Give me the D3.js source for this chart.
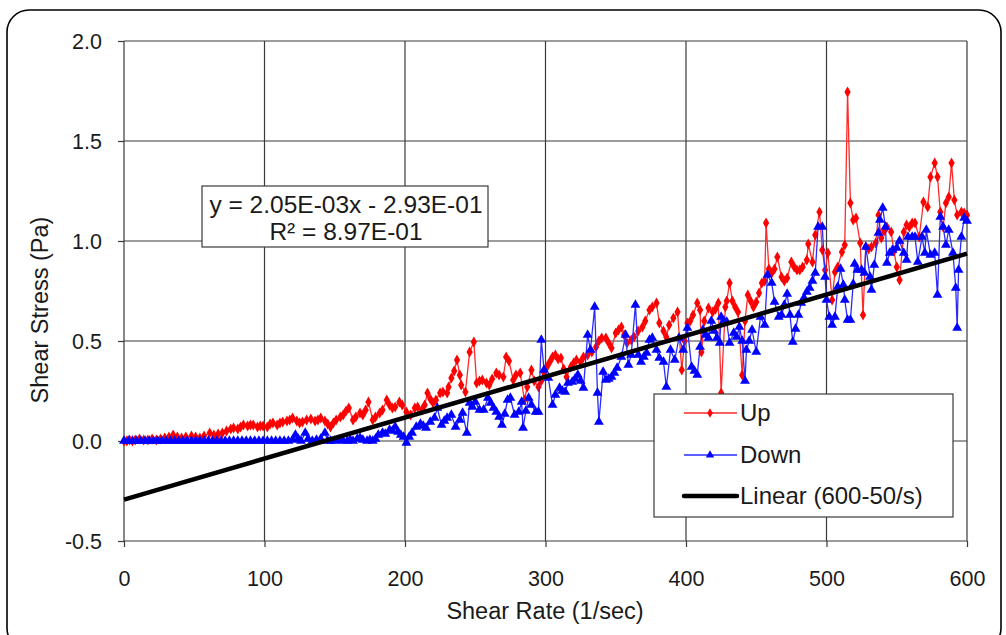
<!DOCTYPE html>
<html><head><meta charset="utf-8">
<script src="https://cdn.jsdelivr.net/npm/d3@7"></script>
<style>
body{margin:0;background:#fff;}
text{font-family:"Liberation Sans",Arial,sans-serif;fill:#1a1a1a;}
</style></head>
<body><svg id="c" width="1006" height="635"></svg>
<script>
const xTicks = [0,100,200,300,400,500,600];
const yTicks = [-0.5,0,0.5,1.0,1.5,2.0];
const xTitle = "Shear Rate (1/sec)";
const yTitle = "Shear Stress (Pa)";
const seriesNames = ["Up","Down","Linear (600-50/s)"];
const fitSlope = 2.05e-3, fitIntercept = -0.293;
const fitLabel = ["y = 2.05E-03x - 2.93E-01","R² = 8.97E-01"];

const upPoints = [[0,0],[2,0],[4,0.005],[6,0],[8,0.005],[11,0.01],[14,0.005],[17,0.005],[20,0.01],[23,0.005],[26,0.01],[29,0.015],[32,0.02],[35,0.03],[38,0.02],[41,0.015],[44,0.02],[48,0.025],[51,0.02],[54,0.015],[57,0.025],[61,0.04],[64,0.03],[67,0.035],[70,0.04],[73,0.05],[76,0.06],[78,0.065],[81,0.06],[83,0.07],[85,0.08],[88,0.075],[90,0.08],[92,0.08],[95,0.07],[97,0.075],[99,0.075],[102,0.07],[104,0.085],[106,0.09],[109,0.08],[111,0.09],[113,0.095],[116,0.1],[118,0.105],[120,0.115],[123,0.1],[125,0.09],[127,0.095],[130,0.105],[133,0.11],[136,0.1],[138,0.105],[140,0.115],[143,0.1],[145,0.085],[147,0.07],[149,0.09],[151,0.105],[154,0.12],[156,0.13],[158,0.15],[160,0.165],[163,0.105],[165,0.12],[168,0.14],[170,0.13],[172,0.155],[174,0.195],[177,0.105],[179,0.12],[182,0.14],[184,0.155],[187,0.205],[189,0.18],[191,0.165],[193,0.17],[196,0.195],[198,0.18],[201,0.145],[204,0.13],[207,0.165],[209,0.17],[212,0.155],[214,0.18],[216,0.24],[218,0.21],[220,0.19],[222,0.205],[225,0.24],[227,0.245],[230,0.24],[231,0.27],[233,0.315],[235,0.35],[237,0.405],[239,0.33],[240,0.28],[243,0.245],[246,0.445],[249,0.495],[251,0.29],[253,0.3],[255,0.305],[258,0.29],[260,0.28],[262,0.31],[265,0.34],[267,0.33],[270,0.32],[272,0.42],[274,0.4],[277,0.305],[279,0.33],[282,0.34],[285,0.205],[287,0.27],[290,0.355],[292,0.3],[295,0.27],[297,0.3],[299,0.34],[301,0.37],[303,0.395],[305,0.42],[307,0.43],[309,0.41],[311,0.415],[313,0.36],[315,0.32],[318,0.37],[320,0.39],[322,0.405],[325,0.395],[327,0.42],[330,0.43],[333,0.445],[336,0.47],[338,0.5],[340,0.515],[343,0.515],[345,0.49],[347,0.465],[350,0.54],[352,0.555],[354,0.57],[356,0.53],[358,0.49],[361,0.505],[363,0.52],[366,0.55],[369,0.57],[371,0.6],[374,0.655],[376,0.67],[379,0.69],[381,0.59],[384,0.55],[386,0.52],[388,0.58],[391,0.615],[394,0.645],[397,0.355],[399,0.5],[401,0.59],[403,0.6],[405,0.63],[408,0.69],[410,0.655],[411,0.445],[413,0.6],[416,0.665],[419,0.645],[421,0.66],[423,0.69],[425,0.24],[428,0.67],[429,0.7],[431,0.79],[433,0.7],[435,0.67],[437,0.645],[440,0.33],[442,0.6],[444,0.73],[446,0.7],[448,0.67],[450,0.695],[452,0.74],[454,0.79],[456,0.8],[457,1.09],[459,0.86],[461,0.84],[463,0.86],[465,0.92],[468,0.82],[470,0.8],[472,0.815],[475,0.895],[477,0.87],[479,0.855],[481,0.855],[483,0.87],[486,0.905],[487,0.985],[490,0.895],[492,1.03],[495,1.145],[497,0.955],[499,0.855],[501,0.94],[504,0.705],[506,0.845],[508,0.87],[511,0.945],[513,0.98],[515,1.745],[517,1.19],[519,1.105],[521,1.115],[524,0.99],[526,0.63],[528,0.97],[530,0.96],[532,0.97],[535,0.99],[537,1.13],[539,1.015],[541,1.05],[543,1.07],[546,1.045],[548,0.95],[550,0.87],[552,0.805],[555,1.045],[557,1.08],[559,1.07],[561,1.09],[563,1.09],[566,1.02],[569,1.195],[572,1.17],[574,1.32],[577,1.39],[579,1.32],[581,1.145],[583,1.07],[585,1.19],[587,1.22],[589,1.39],[591,1.205],[593,1.13],[596,1.145],[598,1.14],[600,1.13]];

const downPoints = [[0,0],[3,0],[6,0],[9,0],[12,0],[15,0],[18,0],[21,0],[24,0],[27,0],[30,0],[33,0],[36,0],[39,0],[42,0],[45,0],[48,0],[51,0],[54,0],[57,0],[60,0],[63,0],[66,0],[69,0],[72,0],[75,0],[78,0],[81,0],[84,0],[87,0],[90,0],[93,0],[96,0],[99,0],[102,0],[105,0],[108,0],[111,0],[114,0],[117,0],[120,0.005],[122,0.03],[124,0.01],[126,0],[129,0.04],[131,0.01],[134,0],[137,0.005],[140,0.01],[143,0.04],[145,0],[147,0],[150,0],[153,0.005],[156,0],[159,0],[161,0.005],[163,0],[166,0.01],[168,0.015],[170,0.005],[173,0],[175,0.005],[177,0],[179,0.01],[181,0.03],[184,0.04],[186,0.035],[189,0.055],[191,0.05],[193,0.07],[195,0.045],[197,0.03],[199,0.02],[201,-0.01],[203,0.02],[205,0.04],[208,0.07],[211,0.085],[213,0.075],[215,0.065],[218,0.095],[221,0.115],[223,0.165],[226,0.08],[228,0.1],[230,0.115],[233,0.13],[236,0.07],[239,0.105],[241,0.14],[244,0.04],[246,0.19],[248,0.17],[250,0.195],[253,0.155],[256,0.155],[259,0.215],[261,0.19],[263,0.165],[265,0.145],[267,0.12],[269,0.08],[271,0.135],[273,0.205],[275,0.215],[278,0.13],[281,0.145],[283,0.195],[284,0.065],[286,0.15],[288,0.215],[290,0.18],[293,0.145],[295,0.145],[297,0.505],[299,0.355],[302,0.315],[305,0.18],[307,0.23],[310,0.265],[312,0.25],[314,0.245],[316,0.29],[319,0.295],[321,0.31],[323,0.33],[325,0.3],[327,0.265],[330,0.53],[332,0.455],[335,0.67],[337,0.24],[338,0.095],[341,0.345],[343,0.305],[345,0.31],[347,0.32],[349,0.34],[351,0.365],[354,0.42],[357,0.53],[359,0.38],[361,0.43],[364,0.68],[366,0.43],[368,0.395],[370,0.42],[372,0.44],[374,0.505],[376,0.515],[379,0.455],[381,0.415],[384,0.395],[386,0.27],[389,0.455],[392,0.405],[395,0.515],[398,0.455],[401,0.565],[404,0.37],[406,0.35],[408,0.33],[410,0.47],[412,0.555],[414,0.53],[416,0.515],[418,0.6],[420,0.55],[422,0.515],[424,0.49],[425,0.62],[427,0.6],[429,0.595],[431,0.49],[434,0.54],[436,0.52],[438,0.57],[440,0.5],[442,0.3],[443,0.455],[445,0.5],[447,0.555],[450,0.445],[453,0.62],[456,0.58],[458,0.83],[461,0.79],[463,0.695],[466,0.62],[468,0.63],[470,0.68],[472,0.735],[474,0.63],[476,0.495],[478,0.56],[480,0.63],[482,0.69],[484,0.715],[486,0.745],[488,0.765],[490,0.8],[492,0.84],[494,1.07],[497,1.07],[499,0.82],[500,0.705],[502,0.62],[504,0.58],[506,0.62],[508,0.77],[510,0.86],[512,0.78],[513,0.705],[515,0.605],[517,0.605],[519,0.785],[520,0.885],[522,0.855],[525,0.855],[527,0.84],[528,0.97],[531,0.82],[532,0.755],[534,0.88],[537,1.04],[538,1.105],[540,1.165],[542,1.07],[543,0.89],[545,0.94],[547,0.955],[550,0.965],[552,1.0],[555,0.94],[557,0.905],[558,1.02],[561,1.02],[563,1.02],[565,0.895],[568,1.02],[570,0.94],[571,1.055],[574,0.93],[577,0.94],[579,0.73],[581,1.12],[583,1.07],[585,0.98],[587,1.055],[590,0.94],[592,0.765],[593,0.565],[594,0.855],[596,1.02],[598,1.115],[600,1.1]];

const svg = d3.select("#c");
const m = {left:124, right:967, top:41, bottom:541};
const x = d3.scaleLinear().domain([0,600]).range([m.left,m.right]);
const y = d3.scaleLinear().domain([-0.5,2.0]).range([m.bottom,m.top]);
const FONT = "Liberation Sans, Arial, sans-serif";

// outer frame
svg.append("rect").attr("x",7).attr("y",10).attr("width",994).attr("height",640)
  .attr("rx",22).attr("ry",22).attr("fill","#fff").attr("stroke","#000").attr("stroke-width",1.6);

// gridlines
const grid = svg.append("g").attr("stroke","#3a3a3a").attr("stroke-width",1.2);
yTicks.forEach(t=>grid.append("line").attr("x1",m.left).attr("x2",m.right).attr("y1",y(t)).attr("y2",y(t)));
xTicks.forEach(t=>grid.append("line").attr("y1",m.top).attr("y2",m.bottom).attr("x1",x(t)).attr("x2",x(t)));

// axes
const fmtY = d => d3.format(".1f")(d).replace("\u2212","-");
const yAxis = svg.append("g").attr("transform",`translate(${m.left},0)`)
  .call(d3.axisLeft(y).tickValues(yTicks).tickFormat(fmtY).tickSize(6));
const xAxis = svg.append("g").attr("transform",`translate(0,${m.bottom})`)
  .call(d3.axisBottom(x).tickValues(xTicks).tickFormat(d3.format("d")).tickSize(6));
[yAxis,xAxis].forEach(a=>{
  a.select(".domain").remove();
  a.selectAll(".tick line").attr("stroke","#3a3a3a").attr("stroke-width",1.2);
  a.selectAll("text").attr("font-size",21.5).attr("fill","#1a1a1a").style("font-family",FONT);
});
yAxis.selectAll("text").attr("dy","0.35em").attr("x",-22);
xAxis.selectAll("text").attr("dy","0").attr("y",45);

// axis titles
svg.append("text").attr("x",545).attr("y",619).attr("text-anchor","middle").attr("font-size",23.5).text(xTitle);
svg.append("text").attr("transform","translate(48,310) rotate(-90)").attr("text-anchor","middle").attr("font-size",23.5).text(yTitle);

const line = d3.line().x(d=>x(d[0])).y(d=>y(d[1]));

// Up series
svg.append("path").datum(upPoints).attr("d",line).attr("fill","none").attr("stroke","#ff2a2a").attr("stroke-width",1.3);
svg.append("g").selectAll("path").data(upPoints).join("path")
  .attr("transform",d=>`translate(${x(d[0])},${y(d[1])})`)
  .attr("d",d3.symbol().type(d3.symbolDiamond).size(34)).attr("fill","#ff0000");

// Down series
svg.append("path").datum(downPoints).attr("d",line).attr("fill","none").attr("stroke","#2a2aff").attr("stroke-width",1.3);
svg.append("g").selectAll("path").data(downPoints).join("path")
  .attr("transform",d=>`translate(${x(d[0])},${y(d[1])})`)
  .attr("d",d3.symbol().type(d3.symbolTriangle).size(42)).attr("fill","#0000ff");

// Linear fit
const fitDomain = [0,600];
svg.append("path").datum(fitDomain.map(v=>[v, fitSlope*v+fitIntercept])).attr("d",line)
  .attr("fill","none").attr("stroke","#000").attr("stroke-width",4.5);

// equation box
const eq = svg.append("g");
eq.append("rect").attr("x",202).attr("y",186).attr("width",286).attr("height",61).attr("fill","#fff").attr("stroke","#3a3a3a").attr("stroke-width",1.2);
eq.append("text").attr("x",346).attr("y",213).attr("text-anchor","middle").attr("font-size",24.5).text(fitLabel[0]);
eq.append("text").attr("x",346).attr("y",240).attr("text-anchor","middle").attr("font-size",24.5).text(fitLabel[1]);

// legend
const lg = svg.append("g");
lg.append("rect").attr("x",654).attr("y",394).attr("width",299).attr("height",123).attr("fill","#fff").attr("stroke","#3a3a3a").attr("stroke-width",1.2);
const ly = [413,455,496];
lg.append("line").attr("x1",684).attr("x2",737).attr("y1",ly[0]).attr("y2",ly[0]).attr("stroke","#ff2a2a").attr("stroke-width",1.3);
lg.append("path").attr("transform",`translate(710,${ly[0]})`).attr("d",d3.symbol().type(d3.symbolDiamond).size(26)).attr("fill","#ff0000");
lg.append("line").attr("x1",684).attr("x2",737).attr("y1",ly[1]).attr("y2",ly[1]).attr("stroke","#2a2aff").attr("stroke-width",1.3);
lg.append("path").attr("transform",`translate(710,${ly[1]})`).attr("d",d3.symbol().type(d3.symbolTriangle).size(30)).attr("fill","#0000ff");
lg.append("line").attr("x1",684).attr("x2",737).attr("y1",ly[2]).attr("y2",ly[2]).attr("stroke","#000").attr("stroke-width",4.5).attr("stroke-linecap","round");
seriesNames.forEach((n,i)=>lg.append("text").attr("x",740).attr("y",ly[i]+8).attr("font-size",24).text(n));
</script></body></html>
